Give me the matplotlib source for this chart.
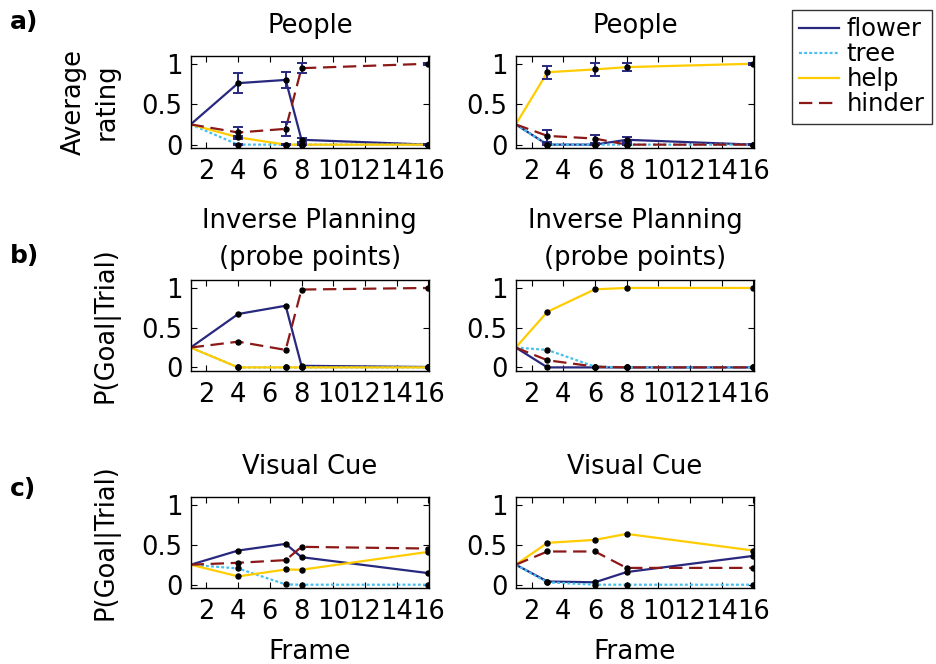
import matplotlib
matplotlib.use("Agg")
import matplotlib.pyplot as plt
from matplotlib.lines import Line2D

plt.rcParams['font.family'] = ['DejaVu Sans']
plt.rcParams['font.size'] = 18.5

# ---- data -------------------------------------------------------------
series = ["flower", "tree", "help", "hinder"]

frames_left = [1, 4, 7, 8, 16]
frames_right = [1, 3, 6, 8, 16]

# a) average human ratings
people_left = {
    "flower": [0.25, 0.76, 0.80, 0.06, 0.00],
    "tree":   [0.25, 0.00, 0.00, 0.00, 0.00],
    "help":   [0.25, 0.09, 0.00, 0.00, 0.00],
    "hinder": [0.25, 0.15, 0.195, 0.945, 1.00],
}
people_left_err = {
    "flower": [0, 0.12, 0.10, 0.025, 0.01],
    "tree":   [0, 0.01, 0.01, 0.01, 0.01],
    "help":   [0, 0.02, 0.01, 0.01, 0.01],
    "hinder": [0, 0.07, 0.09, 0.06, 0.01],
}
people_right = {
    "flower": [0.25, 0.00, 0.00, 0.06, 0.00],
    "tree":   [0.25, 0.00, 0.00, 0.00, 0.00],
    "help":   [0.25, 0.895, 0.93, 0.958, 1.00],
    "hinder": [0.25, 0.108, 0.075, 0.00, 0.00],
}
people_right_err = {
    "flower": [0, 0.01, 0.01, 0.03, 0.01],
    "tree":   [0, 0.01, 0.01, 0.01, 0.01],
    "help":   [0, 0.08, 0.08, 0.05, 0.015],
    "hinder": [0, 0.07, 0.05, 0.01, 0.01],
}

# b) inverse planning model at the probe points
planning_left = {
    "flower": [0.25, 0.672, 0.776, 0.02, 0.005],
    "tree":   [0.25, 0.00, 0.00, 0.00, 0.00],
    "help":   [0.25, 0.00, 0.00, 0.00, 0.00],
    "hinder": [0.25, 0.324, 0.22, 0.98, 1.00],
}
planning_right = {
    "flower": [0.25, 0.00, 0.00, 0.00, 0.00],
    "tree":   [0.25, 0.22, 0.01, 0.00, 0.00],
    "help":   [0.25, 0.70, 0.983, 1.00, 1.00],
    "hinder": [0.25, 0.09, 0.01, 0.00, 0.00],
}

# c) visual cue model
cue_left = {
    "flower": [0.25, 0.427, 0.51, 0.344, 0.145],
    "tree":   [0.25, 0.203, 0.004, 0.00, 0.00],
    "help":   [0.25, 0.104, 0.19, 0.187, 0.41],
    "hinder": [0.25, 0.274, 0.307, 0.473, 0.452],
}
cue_right = {
    "flower": [0.25, 0.04, 0.03, 0.158, 0.36],
    "tree":   [0.25, 0.03, 0.00, 0.00, 0.00],
    "help":   [0.25, 0.523, 0.56, 0.635, 0.427],
    "hinder": [0.25, 0.415, 0.415, 0.21, 0.21],
}

row_titles = ["People", "Inverse Planning\n(probe points)", "Visual Cue"]
row_ylabels = ["Average\nrating", "P(Goal|Trial)", "P(Goal|Trial)"]
row_tags = ["a)", "b)", "c)"]
xticks = [2, 4, 6, 8, 10, 12, 14, 16]
yticks = [0, 0.5, 1]
ytick_labels = ["0", "0.5", "1"]

# ---- styling ----------------------------------------------------------
colors = {
    "flower": "#28287f",
    "tree": "#45c0ef",
    "help": "#ffcc00",
    "hinder": "#8c1818",
}
linestyles = {
    "flower": "-",
    "tree": (0, (1.3, 1.0)),
    "help": "-",
    "hinder": (0, (6, 3)),
}
LW = 1.6
FS = 18.5

fig = plt.figure(figsize=(9.36, 6.64), dpi=100)

col_left = [0.2037, 0.551]
width = 0.2546
row_bottom = [0.7767, 0.4413, 0.114]
row_height = [0.1395, 0.137, 0.138]
title_pad = [16, 11, 16]
title_spacing = [1.4, 1.55, 1.4]

panels = [
    [(frames_left, people_left, people_left_err), (frames_right, people_right, people_right_err)],
    [(frames_left, planning_left, None), (frames_right, planning_right, None)],
    [(frames_left, cue_left, None), (frames_right, cue_right, None)],
]

for r in range(3):
    for c in range(2):
        ax = fig.add_axes([col_left[c], row_bottom[r], width, row_height[r]])
        frames, values, errors = panels[r][c]
        for name in series:
            ax.plot(frames, values[name], color=colors[name], linestyle=linestyles[name],
                    lw=LW, zorder=2, label=name, solid_capstyle="butt",
                    dash_capstyle="butt")
        if errors is not None:
            for name in series:
                ax.errorbar(frames[1:], values[name][1:], yerr=errors[name][1:],
                            fmt="none", ecolor=colors["flower"], elinewidth=1.4,
                            capsize=3.5, capthick=1.4, zorder=3)
        for name in series:
            ax.plot(frames[1:], values[name][1:], linestyle="none", marker="o",
                    ms=3.6, color="black", zorder=4)

        ax.set_xlim(1, 16.05)
        ax.set_ylim(-0.045, 1.1)
        ax.set_xticks(xticks)
        ax.set_yticks(yticks)
        ax.set_yticklabels(ytick_labels)
        ax.tick_params(direction="in", top=True, right=True, length=4, width=0.8,
                       labelsize=FS, colors="black")
        ax.tick_params(axis="x", pad=8)
        ax.tick_params(axis="y", pad=6)
        for sp in ax.spines.values():
            sp.set_linewidth(1.0)
        ax.set_title(row_titles[r], fontsize=FS, pad=title_pad[r],
                     linespacing=title_spacing[r])
        if c == 0:
            ax.set_ylabel(row_ylabels[r], fontsize=FS, linespacing=1.3)
            ax.yaxis.set_label_coords(-0.30, 0.5)
        if r == 2:
            ax.set_xlabel("Frame", fontsize=19, labelpad=10)

# panel tags
tag_y = [22, 256, 489]
for tag, y in zip(row_tags, tag_y):
    fig.text(10 / 936, 1 - y / 664, tag, fontsize=18, fontweight="bold",
             ha="left", va="center")

# shared legend
handles = [Line2D([], [], color=colors[n], linestyle=linestyles[n], lw=LW) for n in series]
leg = fig.legend(handles, series, loc="upper left", bbox_to_anchor=(792 / 936, 1 - 10 / 664),
                 borderaxespad=0, frameon=True, fancybox=False, fontsize=17.5,
                 handlelength=1.65, handletextpad=0.3, labelspacing=0.04,
                 borderpad=0.3)
leg.get_frame().set_edgecolor("black")
leg.get_frame().set_linewidth(1.0)

fig.savefig("out.png", dpi=100)
